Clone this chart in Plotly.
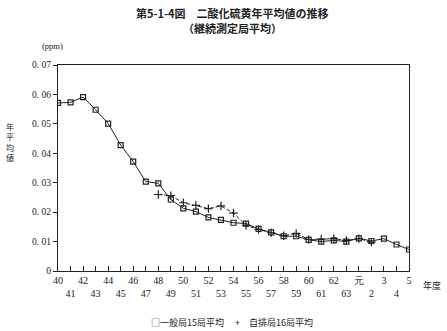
import plotly.graph_objects as go

year_labels = ["40", "41", "42", "43", "44", "45", "46", "47", "48", "49",
               "50", "51", "52", "53", "54", "55", "56", "57", "58", "59",
               "60", "61", "62", "63", "元", "2", "3", "4", "5"]
general_avg = [0.0571, 0.0573, 0.0591, 0.0548, 0.0501, 0.0428, 0.0372, 0.0304,
               0.0298, 0.0243, 0.0213, 0.0202, 0.0182, 0.0174, 0.0164, 0.0161,
               0.0143, 0.0131, 0.0118, 0.0118, 0.0106, 0.0100, 0.0104, 0.0100,
               0.0111, 0.0102, 0.0110, 0.0090, 0.0073]
roadside_labels = ["48", "49", "50", "51", "52", "53", "54", "55", "56", "57",
                   "58", "59", "60", "61", "62", "63", "元", "2"]
roadside_avg = [0.0260, 0.0256, 0.0232, 0.0223, 0.0212, 0.0221, 0.0197, 0.0155,
                0.0141, 0.0130, 0.0120, 0.0128, 0.0107, 0.0108, 0.0110, 0.0104,
                0.0110, 0.0098]
y_ticks = [0, 0.01, 0.02, 0.03, 0.04, 0.05, 0.06, 0.07]
y_tick_text = ["0", "0. 01", "0. 02", "0. 03", "0. 04", "0. 05", "0. 06", "0. 07"]

idx = {lab: i for i, lab in enumerate(year_labels)}
x_general = list(range(len(year_labels)))
x_road = [idx[l] for l in roadside_labels]

serif = "Liberation Serif, DejaVu Serif, serif"
cjk = "Noto Sans CJK JP, sans-serif"

W, H = 447, 331
ML, MR, MT, MB = 58, 38, 65, 60
PW, PH = W - ML - MR, H - MT - MB

fig = go.Figure()
fig.add_trace(go.Scatter(
    x=x_road, y=roadside_avg, mode="lines+markers",
    line=dict(color="#222", width=1, dash="4px,2px"),
    marker=dict(symbol="cross-thin", size=6, line=dict(color="#222", width=1.2)),
    showlegend=False))
fig.add_trace(go.Scatter(
    x=x_general, y=general_avg, mode="lines+markers",
    line=dict(color="#222", width=1),
    marker=dict(symbol="square-open", size=5, color="#222", line=dict(width=1.2)),
    showlegend=False))

tick_text = [lab if i % 2 == 0 else "<br>" + lab for i, lab in enumerate(year_labels)]

fig.update_layout(
    width=W, height=H,
    margin=dict(l=ML, r=MR, t=MT, b=MB),
    paper_bgcolor="white", plot_bgcolor="white",
    font=dict(family=serif, size=10, color="#222"),
    xaxis=dict(range=[0, len(year_labels) - 1], tickvals=x_general, ticktext=tick_text,
               ticks="inside", ticklen=5, tickcolor="#222", showgrid=False, zeroline=False,
               showline=True, linecolor="#222", linewidth=1.2, mirror=True,
               tickfont=dict(family=serif, size=10, color="#222")),
    yaxis=dict(range=[0, 0.07], tickvals=y_ticks, ticktext=y_tick_text,
               ticks="outside", ticklen=4, tickcolor="#222", showgrid=False, zeroline=False,
               showline=True, linecolor="#222", linewidth=1.2, mirror=True,
               tickfont=dict(family=serif, size=9.5, color="#222")),
)

annotations = [
    dict(text="<b>第5-1-4図　二酸化硫黄年平均値の推移</b>", x=232, y=13, size=11),
    dict(text="<b>（継続測定局平均）</b>", x=232, y=28, size=11),
    dict(text="(ppm)", x=52, y=46, size=8.5, fam=serif),
    dict(text="年<br>平<br>均<br>値", x=10, y=142, size=8),
    dict(text="年度", x=432, y=285, size=9),
    dict(text="□一般局15局平均　 +　自排局16局平均", x=232, y=322, size=9),
]
for a in annotations:
    fig.add_annotation(
        text=a["text"], x=(a["x"] - ML) / PW, y=(H - MB - a["y"]) / PH,
        xref="paper", yref="paper", showarrow=False,
        xanchor="center", yanchor="middle",
        font=dict(family=a.get("fam", cjk), size=a["size"], color="#222"))

fig.write_html("out.html")
